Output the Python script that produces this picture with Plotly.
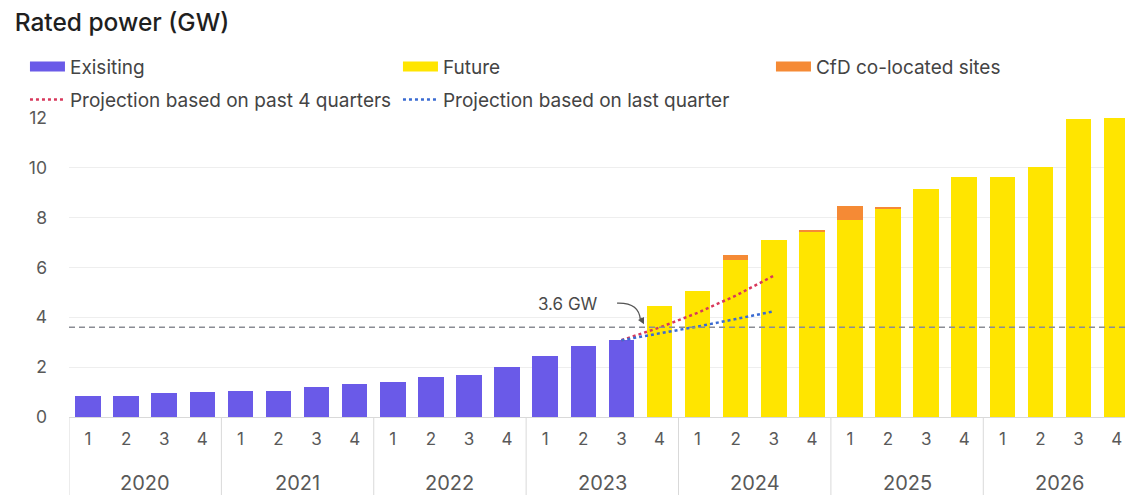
import plotly.graph_objects as go

# Category levels
years = ["2020", "2021", "2022", "2023", "2024", "2025", "2026"]
quarters = ["1", "2", "3", "4"]

# Operational capacity (GW), 2020 Q1 - 2023 Q3
existing_gw = [0.84, 0.84, 0.95, 1.00, 1.05, 1.05, 1.22, 1.33,
               1.41, 1.60, 1.67, 2.00, 2.43, 2.83, 3.08]
# Pipeline capacity (GW), 2023 Q4 - 2026 Q4
future_gw = [4.45, 5.05, 6.32, 7.12, 7.43, 7.91, 8.38, 9.16,
             9.62, 9.62, 10.05, 11.95, 12.00]
# CfD co-located sites stacked on top of the pipeline (GW)
cfd_gw = [0, 0, 0.17, 0, 0.06, 0.57, 0.06, 0, 0, 0, 0, 0, 0]

# Projections from 2023 Q3 to 2024 Q3 (GW)
proj_past4_gw = [3.08, 3.59, 4.18, 4.87, 5.67]
proj_last_gw = [3.08, 3.35, 3.63, 3.93, 4.24]

reference_gw = 3.6
reference_label = "3.6 GW"

# Colours
PURPLE = "#6A5AE8"
YELLOW = "#FFE500"
ORANGE = "#F58A35"
RED = "#D8385C"
BLUE = "#3A6BD2"
GRID = "#eeeeee"
RULE = "#d9d9d9"
LABEL = "#595959"
FONT = "Inter"

# One category per quarter, e.g. "2020 Q1"
cat_keys = [f"{y} Q{q}" for y in years for q in quarters]
cat_quarter = [q for y in years for q in quarters]

n_exist = len(existing_gw)
existing_x = cat_keys[:n_exist]
future_x = cat_keys[n_exist:n_exist + len(future_gw)]
proj_x = cat_keys[n_exist - 1:n_exist - 1 + len(proj_past4_gw)]

fig = go.Figure()

# Bars
fig.add_trace(go.Bar(x=existing_x, y=existing_gw, marker_color=PURPLE,
                     marker_line_width=0, showlegend=False, name="Exisiting"))
fig.add_trace(go.Bar(x=future_x, y=future_gw, marker_color=YELLOW,
                     marker_line_width=0, showlegend=False, name="Future"))
fig.add_trace(go.Bar(x=future_x, y=cfd_gw, marker_color=ORANGE,
                     marker_line_width=0, showlegend=False,
                     name="CfD co-located sites"))

# Projection lines
fig.add_trace(go.Scatter(x=proj_x, y=proj_past4_gw, mode="lines",
                         line=dict(color=RED, width=2.5, dash="dot"),
                         name="Projection based on past 4 quarters",
                         legend="legend2", legendwidth=323))
fig.add_trace(go.Scatter(x=proj_x, y=proj_last_gw, mode="lines",
                         line=dict(color=BLUE, width=2.5, dash="dot"),
                         name="Projection based on last quarter",
                         legend="legend2", legendwidth=300))

# Wide swatches for the bar series in the first legend row
for name, col, lw in [("Exisiting", PURPLE, 323), ("Future", YELLOW, 323),
                      ("CfD co-located sites", ORANGE, 200)]:
    fig.add_trace(go.Scatter(x=[None], y=[None], mode="lines",
                             line=dict(color=col, width=10), name=name,
                             legend="legend", legendwidth=lw,
                             hoverinfo="skip"))

# Reference level
fig.add_shape(type="line", xref="paper", x0=0, x1=1, yref="y",
              y0=reference_gw, y1=reference_gw, layer="above",
              line=dict(color="#8a8c94", width=1.5, dash="6px,4px"))

# Curved callout from the label to the reference line
fig.add_shape(type="path", xref="paper", yref="y", layer="above",
              path="M 0.519,4.57 Q 0.540,4.60 0.541,3.90",
              line=dict(color="#555555", width=1.2))
fig.add_annotation(xref="paper", yref="y", x=0.5445, y=3.72, text="",
                   showarrow=True, arrowhead=2, arrowsize=1.1,
                   arrowwidth=1.2, arrowcolor="#555555", ax=-4, ay=-8)
fig.add_annotation(xref="paper", yref="y", x=0.4725, y=4.55,
                   text=reference_label, showarrow=False,
                   font=dict(family=FONT, size=17, color="#4a4a4a"))

# Year group labels and dividers under the quarter ticks
plot_h = 495 - 118 - 78
year_row_y = -(483 - 417) / plot_h
divider_bottom = -78 / plot_h
for i, yr in enumerate(years):
    fig.add_annotation(xref="x", yref="paper", x=4 * i + 1.5, y=year_row_y,
                       text=yr, showarrow=False, yanchor="middle",
                       font=dict(family=FONT, size=20, color=LABEL))
for i in range(len(years) + 1):
    fig.add_shape(type="line", xref="x", yref="paper",
                  x0=4 * i - 0.5, x1=4 * i - 0.5, y0=0, y1=divider_bottom,
                  line=dict(color=RULE, width=1))

legend_common = dict(orientation="h", xanchor="left", yanchor="top",
                     x=-0.0417, entrywidthmode="pixels", entrywidth=323,
                     itemwidth=35,
                     bgcolor="rgba(0,0,0,0)", traceorder="normal",
                     font=dict(family=FONT, size=19, color="#444444"))

fig.update_layout(
    width=1125, height=495,
    margin=dict(l=69, r=0, t=118, b=78, autoexpand=False),
    paper_bgcolor="white", plot_bgcolor="white",
    barmode="stack", bargap=0.33,
    font=dict(family=FONT, color=LABEL),
    title=dict(text="Rated power (GW)", x=0.013, xanchor="left",
               xref="container", y=0.955, yanchor="middle",
               font=dict(family=FONT, size=24.5, color="#1f1f1f", weight=500)),
    legend=dict(y=1.235, **legend_common),
    legend2=dict(y=1.125, **legend_common),
    xaxis=dict(type="category", categoryorder="array",
               categoryarray=cat_keys, range=[-0.5, 27.22],
               tickmode="array", tickvals=cat_keys, ticktext=cat_quarter,
               showline=True, linecolor=RULE, linewidth=1,
               showgrid=False, ticks="", ticklabelstandoff=7,
               tickfont=dict(family=FONT, size=17, color=LABEL)),
    yaxis=dict(range=[0, 12], dtick=2, showgrid=True, gridcolor=GRID,
               gridwidth=1, zeroline=False, showline=False,
               ticklabelstandoff=21,
               tickfont=dict(family=FONT, size=17.5, color=LABEL)),
)

fig.write_html("out.html")
